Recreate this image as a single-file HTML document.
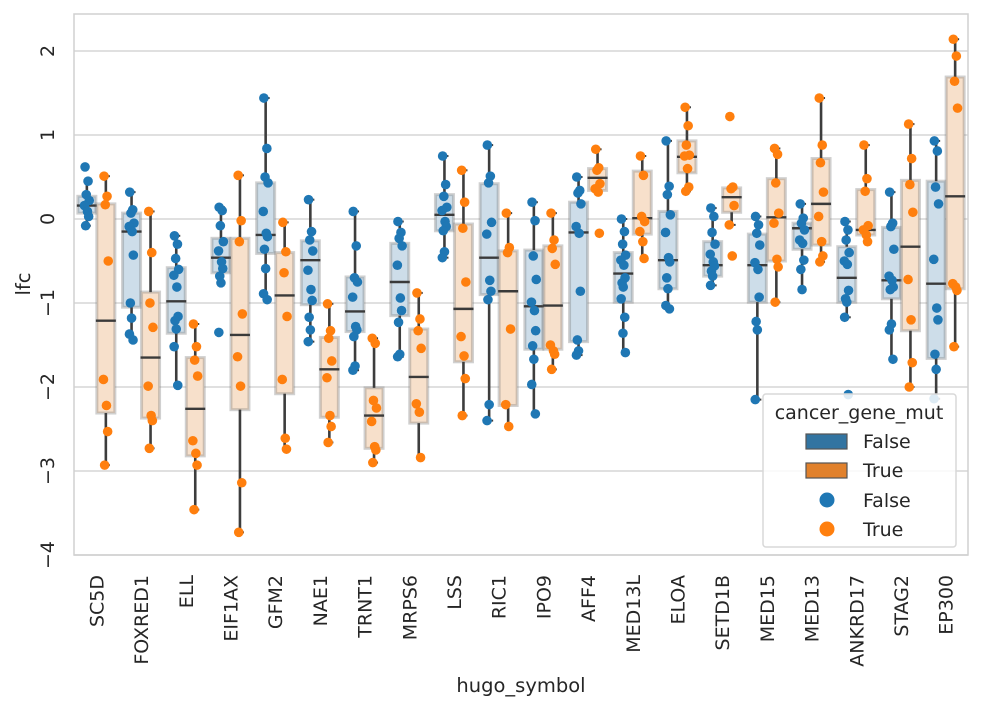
<!DOCTYPE html>
<html><head><meta charset="utf-8"><style>
html,body{margin:0;padding:0;background:#fff}
svg{display:block;font-family:"DejaVu Sans","Liberation Sans",sans-serif}
</style></head><body>
<svg id="chart" width="981" height="710" viewBox="0 0 981 710"></svg>
<script>
const categories=["SC5D","FOXRED1","ELL","EIF1AX","GFM2","NAE1","TRNT1","MRPS6","LSS","RIC1","IPO9","AFF4","MED13L","ELOA","SETD1B","MED15","MED13","ANKRD17","STAG2","EP300"];
const yTicks=[2,1,0,-1,-2,-3,-4];
const yTickLabels=["2","1","0","\u22121","\u22122","\u22123","\u22124"];
const fQ3=[0.27,0.07,-0.58,-0.23,0.43,-0.26,-0.69,-0.29,0.29,0.42,-0.37,0.2,-0.4,0.09,-0.27,-0.18,-0.05,-0.33,-0.1,0.45];
const fMed=[0.16,-0.15,-0.98,-0.46,-0.19,-0.49,-1.1,-0.75,0.05,-0.46,-1.04,-0.16,-0.65,-0.49,-0.55,-0.55,-0.11,-0.7,-0.73,-0.77];
const fQ1=[0.07,-1.05,-1.36,-0.64,-0.41,-1.02,-1.34,-1.15,-0.14,-0.9,-1.55,-1.46,-0.99,-0.83,-0.68,-0.99,-0.36,-0.99,-0.95,-1.66];
const fHi=[0.45,0.32,-0.2,0.14,1.44,0.23,0.09,-0.03,0.75,0.88,0.2,0.5,0,0.93,0.13,0.03,0.18,-0.03,0.32,0.93];
const fLo=[-0.08,-1.44,-1.98,-0.76,-0.96,-1.46,-1.8,-1.64,-0.46,-2.4,-2.32,-1.62,-1.59,-1.07,-0.79,-2.15,-0.84,-1.17,-1.67,-2.14];
const tQ3=[0.18,-0.87,-1.65,-0.23,-0.4,-1.41,-2.01,-1.31,-0.06,-0.38,-0.32,0.6,0.57,0.93,0.37,0.48,0.72,0.35,0.46,1.69];
const tMed=[-1.21,-1.65,-2.26,-1.38,-0.91,-1.79,-2.34,-1.88,-1.07,-0.86,-1.03,0.49,0.01,0.74,0.26,0.02,0.18,-0.13,-0.33,0.27];
const tQ1=[-2.31,-2.37,-2.82,-2.27,-2.08,-2.36,-2.73,-2.43,-1.7,-2.22,-1.55,0.34,-0.18,0.55,0.08,-0.5,-0.31,-0.19,-1.33,-0.83];
const tHi=[0.51,0.09,-1.25,0.52,-0.04,-1.01,-1.42,-0.88,0.58,0.07,0.07,0.83,0.75,1.33,0.38,0.84,1.44,0.88,1.13,2.14];
const tLo=[-2.93,-2.73,-3.46,-3.73,-2.74,-2.66,-2.9,-2.84,-2.34,-2.47,-1.79,0.32,-0.47,0.33,-0.07,-0.99,-0.51,-0.27,-2.0,-1.52];
const fPts=[
[0.62,0.45,0.29,0.22,0.16,0.09,0.03,-0.08],
[0.32,0.11,0.07,-0.05,-0.09,-0.15,-0.43,-1.0,-1.18,-1.37,-1.44],
[-0.2,-0.3,-0.47,-0.6,-0.67,-0.81,-1.16,-1.21,-1.31,-1.52,-1.98],
[0.14,0.1,-0.08,-0.27,-0.38,-0.51,-0.59,-0.68,-0.76,-1.35],
[1.44,0.84,0.5,0.43,0.09,-0.17,-0.21,-0.36,-0.59,-0.89,-0.96],
[0.23,-0.15,-0.25,-0.38,-0.61,-0.84,-0.97,-1.17,-1.32,-1.46],
[0.09,-0.32,-0.7,-0.75,-0.93,-1.28,-1.32,-1.4,-1.75,-1.8],
[-0.03,-0.16,-0.23,-0.32,-0.55,-0.94,-1.09,-1.23,-1.61,-1.64],
[0.75,0.41,0.27,0.14,0.1,-0.03,-0.09,-0.14,-0.39,-0.46],
[0.88,0.51,0.43,-0.04,-0.18,-0.73,-0.86,-0.96,-2.21,-2.4],
[0.2,-0.02,-0.44,-0.72,-0.99,-1.09,-1.33,-1.51,-1.67,-1.97,-2.32],
[0.5,0.34,0.31,0.18,-0.09,-0.17,-0.86,-1.44,-1.57,-1.62],
[0,-0.15,-0.3,-0.43,-0.49,-0.55,-0.7,-0.76,-0.81,-0.95,-1.17,-1.36,-1.59],
[0.93,0.39,0.29,0.05,-0.16,-0.46,-0.51,-0.7,-0.83,-1.03,-1.07],
[0.13,0.03,-0.16,-0.3,-0.42,-0.51,-0.56,-0.62,-0.68,-0.79],
[0.03,-0.07,-0.17,-0.31,-0.52,-0.6,-0.93,-1.22,-1.32,-2.15],
[0.18,0.01,-0.05,-0.13,-0.25,-0.29,-0.49,-0.6,-0.84],
[-0.03,-0.13,-0.25,-0.4,-0.5,-0.54,-0.85,-0.95,-0.99,-1.17,-2.09],
[0.32,-0.05,-0.09,-0.36,-0.68,-0.73,-0.81,-0.84,-1.25,-1.32,-1.67],
[0.93,0.81,0.38,0.18,-0.48,-1.06,-1.2,-1.61,-1.79,-2.14]];
const tPts=[
[0.51,0.27,0.17,-0.5,-1.91,-2.22,-2.53,-2.93],
[0.09,-0.4,-1.0,-1.29,-1.99,-2.34,-2.4,-2.73],
[-1.25,-1.52,-1.68,-1.87,-2.64,-2.79,-2.93,-3.46],
[0.52,-0.02,-0.27,-1.13,-1.64,-1.99,-3.14,-3.73],
[-0.04,-0.39,-0.64,-1.16,-1.91,-2.61,-2.74],
[-1.01,-1.33,-1.42,-1.69,-1.89,-2.34,-2.47,-2.66],
[-1.42,-1.48,-2.16,-2.25,-2.41,-2.71,-2.75,-2.9],
[-0.88,-1.19,-1.33,-1.54,-2.2,-2.3,-2.84],
[0.58,0.2,-0.11,-0.75,-1.4,-1.63,-1.9,-2.34],
[0.07,-0.34,-0.4,-1.31,-2.21,-2.47],
[0.07,-0.25,-0.35,-0.54,-1.5,-1.57,-1.61,-1.79],
[0.83,0.61,0.58,0.42,0.36,0.32,-0.17],
[0.75,0.52,0.03,-0.03,-0.15,-0.27,-0.47],
[1.33,1.11,0.88,0.76,0.75,0.6,0.38,0.33],
[1.22,0.38,0.36,0.16,-0.07,-0.44],
[0.84,0.77,0.43,0.07,-0.05,-0.48,-0.57,-0.99],
[1.44,0.88,0.67,0.32,0.03,-0.27,-0.44,-0.51],
[0.88,0.48,0.33,-0.08,-0.13,-0.19,-0.27],
[1.13,0.72,0.41,0.08,-0.72,-1.2,-1.71,-2.0],
[2.14,1.94,1.64,1.32,-0.77,-0.81,-0.85,-1.52]];

const NS="http://www.w3.org/2000/svg";
const svg=document.getElementById("chart");
const L=74,R=968,T=14,B=555;
const yMin=-4,yMax=2+37/84;
function yS(v){return B-(v-yMin)/(yMax-yMin)*(B-T);}
const band=(R-L)/categories.length;
function xS(i){return L+band*(i+0.5);}
function mk(tag,attrs,parent){const e=document.createElementNS(NS,tag);for(const k in attrs)e.setAttribute(k,attrs[k]);(parent||svg).appendChild(e);return e;}

const bg=mk("rect",{x:L,y:T,width:R-L,height:B-T,fill:"#fff"});


yTicks.forEach((v,k)=>{
  const g=mk("line",{x1:L,x2:R,y1:yS(v),y2:yS(v),stroke:"#d6d6d6","stroke-width":1.5});
  
  
  const t=mk("text",{x:0,y:0,transform:`translate(54,${yS(v)}) rotate(-90)`,"text-anchor":"middle","font-size":19,fill:"#262626"});
  t.textContent=yTickLabels[k];
  
  
});
const fr=mk("rect",{x:L,y:T,width:R-L,height:B-T,fill:"none",stroke:"#d0d0d0","stroke-width":1.5});



const jit=[-3,2,-1,4,-4,1,3,-2,0,-3.5,2.5,-0.5,3.5];
const off=9.5,bw=18;
function drawGroup(i,q1,med,q3,lo,hi,pts,fill,dot,name){
  const cx=xS(i)+(name==="false"?-off:off);
  const box=mk("rect",{x:cx-bw/2,y:yS(q3),width:bw,height:yS(q1)-yS(q3),fill:fill,stroke:"rgba(120,120,120,0.35)","stroke-width":3});
  
  
  const w1=mk("line",{x1:cx,x2:cx,y1:yS(q3),y2:yS(hi),stroke:"#3d3d3d","stroke-width":2.6});
  
  
  const w2=mk("line",{x1:cx,x2:cx,y1:yS(q1),y2:yS(lo),stroke:"#3d3d3d","stroke-width":2.6});
  
  
  [hi,lo].forEach(v=>{
    const c=mk("line",{x1:cx,x2:cx+4,y1:yS(v),y2:yS(v),stroke:"#3d3d3d","stroke-width":2});
    
    
  });
  const m=mk("line",{x1:cx-bw/2-1,x2:cx+bw/2+1,y1:yS(med),y2:yS(med),stroke:"#3a3a3a","stroke-width":2.4});
  
  
  pts.forEach((v,k)=>{
    const p=mk("circle",{cx:cx+jit[k%jit.length]*0.6,cy:yS(v),r:4.8,fill:dot});
    
    
  });
}
categories.forEach((c,i)=>{
  drawGroup(i,fQ1[i],fMed[i],fQ3[i],fLo[i],fHi[i],fPts[i],"#cddde9","#1f77b4","false");
  drawGroup(i,tQ1[i],tMed[i],tQ3[i],tLo[i],tHi[i],tPts[i],"#f7e0cb","#ff7f0e","true");
  const t=mk("text",{x:0,y:0,transform:`translate(${xS(i)+7},575) rotate(-90)`,"text-anchor":"end","font-size":19,fill:"#262626"});
  t.textContent=c;
  
  
});
</script>
<svg width="981" height="710" style="position:absolute;left:0;top:0">
<text x="521" y="692" text-anchor="middle" font-size="19.5" fill="#262626" font-family="DejaVu Sans, Liberation Sans, sans-serif">hugo_symbol</text>
<text transform="translate(30,284) rotate(-90)" text-anchor="middle" font-size="19.5" fill="#262626" font-family="DejaVu Sans, Liberation Sans, sans-serif">lfc</text>
<g font-family="DejaVu Sans, Liberation Sans, sans-serif" font-size="19" fill="#262626">
<rect x="763" y="394" width="193" height="153" rx="3" fill="rgba(255,255,255,0.85)" stroke="#d8d8d8" stroke-width="1.5"/>
<text x="859" y="419" text-anchor="middle">cancer_gene_mut</text>
<rect x="806" y="434" width="41" height="15" fill="#3274a1" stroke="#555" stroke-width="1.2"/>
<text x="863" y="448">False</text>
<rect x="806" y="463" width="41" height="15" fill="#e1812c" stroke="#555" stroke-width="1.2"/>
<text x="863" y="477">True</text>
<circle cx="827" cy="500" r="7.5" fill="#1f77b4"/>
<text x="863" y="507">False</text>
<circle cx="827" cy="529" r="7.5" fill="#ff7f0e"/>
<text x="863" y="536">True</text>
</g>
</svg>
</body></html>
